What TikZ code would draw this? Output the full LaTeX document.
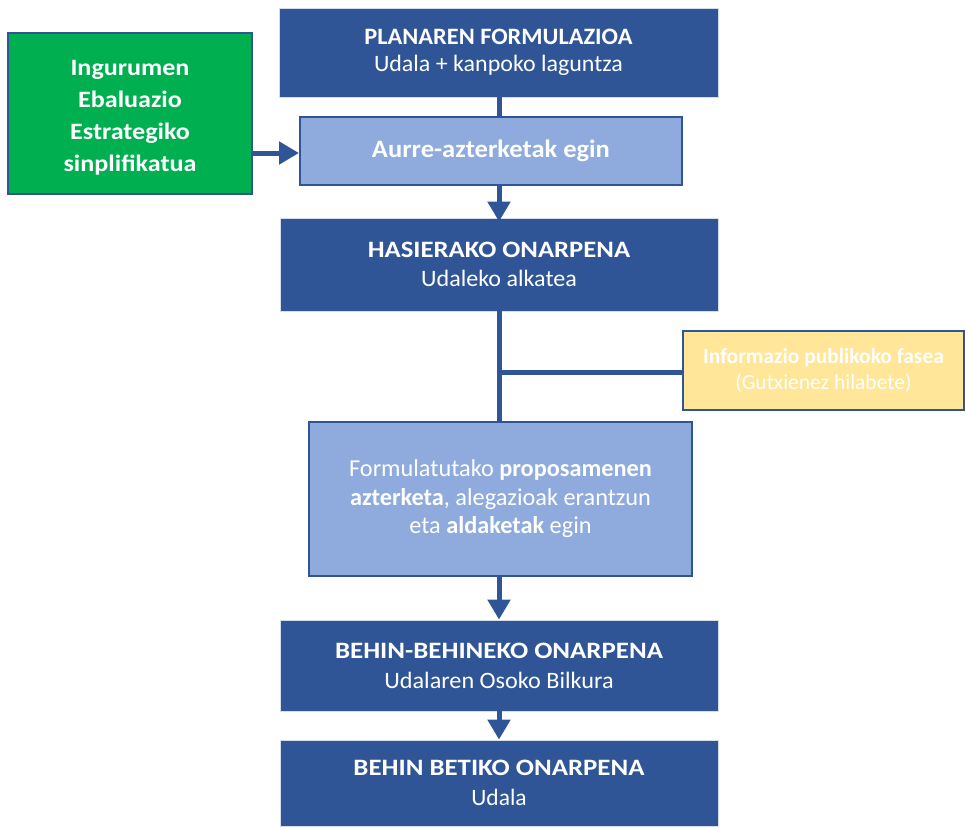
\documentclass[tikz,border=0pt]{standalone}
\usepackage{fontspec}
\setmainfont{Carlito}
\usetikzlibrary{arrows.meta}
\definecolor{dblue}{HTML}{2F5597}
\definecolor{lblue}{HTML}{8FAADC}
\definecolor{egreen}{HTML}{00B050}
\definecolor{eyellow}{HTML}{FFE699}
\newcommand{\hsc}[2]{\scalebox{#1}[1]{#2}}
\begin{document}
\begin{tikzpicture}[x=1pt,y=-1pt,
  darkbox/.style={rectangle,fill=dblue,draw=white!80!dblue,line width=0.8pt,text=white,align=center,inner sep=0pt},
  lightbox/.style={rectangle,fill=lblue,draw=dblue,line width=2pt,text=white,align=center,inner sep=0pt},
  greenbox/.style={rectangle,fill=egreen,draw=dblue,line width=2pt,text=white,align=center,inner sep=0pt,font=\fontsize{23.5}{32}\selectfont\bfseries},
  yellowbox/.style={rectangle,fill=eyellow,draw=dblue,line width=2pt,text=white,align=center,inner sep=0pt,font=\fontsize{21.5}{26}\selectfont},
  conn/.style={draw=dblue,line width=5pt},
  arr/.style={conn,-{Triangle[width=22pt,length=20pt]}}
]
\useasboundingbox (0,0) rectangle (965,827);
\node[darkbox,minimum width=439pt,minimum height=89pt,font=\fontsize{23.5}{27}\selectfont] (plan) at (498.5,52.5)
  {\hsc{1.035}{\textbf{PLANAREN FORMULAZIOA}}\\\hsc{1.02}{Udala + kanpoko laguntza}};
\node[lightbox,minimum width=382pt,minimum height=68pt,font=\fontsize{25}{29}\selectfont] (aurre) at (491,151)
  {\hsc{1.06}{\textbf{Aurre-azterketak egin}}};
\node[greenbox,minimum width=244pt,minimum height=161pt] (ingur) at (130,113.5)
  {};
\node[text=white,align=center,inner sep=0pt,font=\fontsize{23.5}{32}\selectfont\bfseries] (ingurtxt) at (130,118)
  {\hsc{1.11}{Ingurumen}\\\hsc{1.11}{Ebaluazio}\\\hsc{1.11}{Estrategiko}\\\hsc{1.11}{sinplifikatua}};
\node[darkbox,minimum width=438pt,minimum height=93pt,font=\fontsize{23.5}{29}\selectfont] (hasi) at (499,264.5)
  {\hsc{1.136}{\textbf{HASIERAKO ONARPENA}}\\\hsc{1.025}{Udaleko alkatea}};
\node[yellowbox,minimum width=281pt,minimum height=79pt] (info) at (823.5,370.5)
  {\textbf{Informazio publikoko fasea}\\(Gutxienez hilabete)};
\node[lightbox,minimum width=383pt,minimum height=154pt,font=\fontsize{24.3}{28.5}\selectfont] (form) at (500.5,499)
  {Formulatutako \textbf{proposamenen}\\\textbf{azterketa}, alegazioak erantzun\\eta \textbf{aldaketak} egin};
\node[darkbox,minimum width=438pt,minimum height=91pt,font=\fontsize{23.5}{30}\selectfont] (behin) at (499,665.5)
  {\hsc{1.144}{\textbf{BEHIN-BEHINEKO ONARPENA}}\\\hsc{1.03}{Udalaren Osoko Bilkura}};
\node[darkbox,minimum width=438pt,minimum height=86pt,font=\fontsize{23.5}{30}\selectfont] (betiko) at (499,783)
  {\hsc{1.143}{\textbf{BEHIN BETIKO ONARPENA}}\\Udala};
\coordinate (jn) at (499,372);
\draw[conn] (plan.south -| 499,0) -- (aurre.north -| 499,0);
\draw[arr] (ingur.east |- 0,153) -- (aurre.west |- 0,153);
\draw[arr] (aurre.south -| 499,0) -- ([yshift=-4pt]hasi.north -| 499,0);
\draw[conn] (hasi.south -| 499,0) -- (form.north -| 499,0);
\draw[conn] (info.west |- jn) -- (jn);
\draw[arr] (form.south -| 499,0) -- (behin.north -| 499,0);
\draw[arr] (behin.south -| 499,0) -- (betiko.north -| 499,0);
\end{tikzpicture}
\end{document}
